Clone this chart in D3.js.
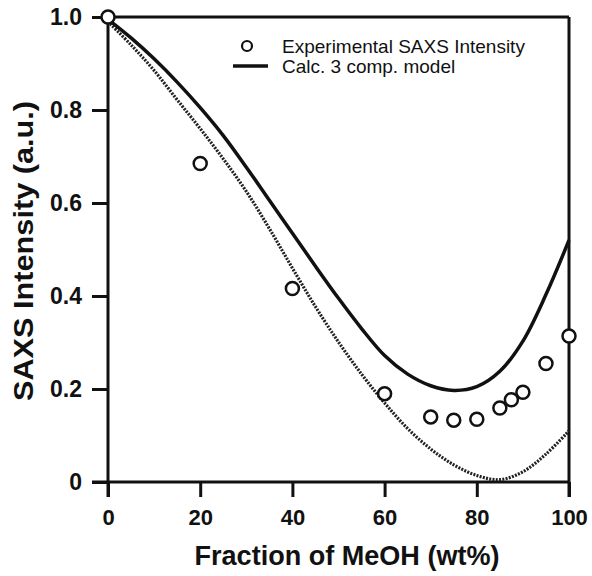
<!DOCTYPE html>
<html>
<head>
<meta charset="utf-8">
<script src="https://cdn.jsdelivr.net/npm/d3@7"></script>
<style>
  html, body { margin: 0; padding: 0; background: #fff; }
  svg { display: block; font-family: "Liberation Sans", Arial, Helvetica, sans-serif; }
</style>
</head>
<body>
<svg id="chart" width="592" height="576"></svg>
<script>
// Experimental SAXS intensity
const expFraction = [0, 20, 40, 60, 70, 75, 80, 85, 87.5, 90, 95, 100];
const expIntensity = [1.0, 0.685, 0.416, 0.19, 0.14, 0.133, 0.135, 0.159, 0.177, 0.193, 0.255, 0.314];

// Calculated 3-component model (solid)
const modelFraction = [0, 5, 10, 15, 20, 25, 30, 35, 40, 45, 50, 55, 60, 65, 70, 75, 80, 85, 90, 95, 100];
const modelIntensity = [0.995, 0.955, 0.91, 0.86, 0.805, 0.745, 0.677, 0.606, 0.535, 0.464, 0.395, 0.33, 0.272, 0.232, 0.207, 0.197, 0.205, 0.238, 0.303, 0.403, 0.52];

// Dotted curve
const dotIntensity = [0.99, 0.94, 0.885, 0.822, 0.76, 0.695, 0.625, 0.545, 0.46, 0.377, 0.301, 0.232, 0.17, 0.115, 0.071, 0.037, 0.014, 0.005, 0.022, 0.06, 0.11];

const xTicks = [0, 20, 40, 60, 80, 100];
const yTicks = [0, 0.2, 0.4, 0.6, 0.8, 1.0];
const yTickLabels = ["0", "0.2", "0.4", "0.6", "0.8", "1.0"];

const legendLabels = ["Experimental SAXS Intensity", "Calc. 3 comp. model"];
const xTitle = "Fraction of MeOH (wt%)";
const yTitle = "SAXS Intensity (a.u.)";

const svg = d3.select("#chart");
const pLeft = 108, pRight = 569, pTop = 17, pBottom = 482;

const x = d3.scaleLinear().domain([0, 100]).range([pLeft, pRight]);
const y = d3.scaleLinear().domain([0, 1]).range([pBottom, pTop]);

// Frame (top & right)
svg.append("line").attr("x1", pLeft).attr("x2", pRight).attr("y1", pTop).attr("y2", pTop)
  .attr("stroke", "#111").attr("stroke-width", 3);
svg.append("line").attr("x1", pRight).attr("x2", pRight).attr("y1", pTop).attr("y2", pBottom + 15)
  .attr("stroke", "#111").attr("stroke-width", 3);

// Axes
const xAxis = d3.axisBottom(x).tickValues(xTicks).tickSize(15).tickSizeOuter(0).tickPadding(12)
  .tickFormat(d3.format("d"));
const gx = svg.append("g").attr("transform", `translate(0,${pBottom})`).call(xAxis);
gx.select(".domain").attr("d", `M${pLeft - 16},0H${pRight}`).attr("stroke", "#111").attr("stroke-width", 3);
gx.selectAll(".tick line").attr("stroke", "#111").attr("stroke-width", 3);
gx.selectAll(".tick text").attr("fill", "#111").attr("font-size", 22).attr("font-weight", "bold")
  .attr("font-family", "Liberation Sans, Arial, sans-serif").attr("dy", "0.71em");

const yAxis = d3.axisLeft(y).tickValues(yTicks).tickSize(16).tickSizeOuter(0).tickPadding(10)
  .tickFormat((d, i) => yTickLabels[i]);
const gy = svg.append("g").attr("transform", `translate(${pLeft},0)`).call(yAxis);
gy.select(".domain").attr("d", `M0,${pTop}V${pBottom + 15}`).attr("stroke", "#111").attr("stroke-width", 3);
gy.selectAll(".tick line").attr("stroke", "#111").attr("stroke-width", 3);
gy.selectAll(".tick text").attr("fill", "#111").attr("font-size", 23).attr("font-weight", "bold")
  .attr("font-family", "Liberation Sans, Arial, sans-serif");

// Titles
svg.append("text").attr("x", 347).attr("y", 565).attr("text-anchor", "middle")
  .attr("font-size", 28).attr("font-weight", "bold").attr("fill", "#111")
  .attr("textLength", 305).attr("lengthAdjust", "spacingAndGlyphs")
  .text(xTitle);
svg.append("text").attr("transform", "translate(33,251) rotate(-90)").attr("text-anchor", "middle")
  .attr("font-size", 27).attr("font-weight", "bold").attr("fill", "#111")
  .attr("textLength", 300).attr("lengthAdjust", "spacingAndGlyphs")
  .text(yTitle);

// Curves
const line = d3.line().x(d => x(d[0])).y(d => y(d[1])).curve(d3.curveCatmullRom.alpha(0.5));
svg.append("path").datum(modelFraction.map((f, i) => [f, dotIntensity[i]]))
  .attr("d", line).attr("fill", "none").attr("stroke", "#222")
  .attr("stroke-width", 3.2).attr("stroke-dasharray", "2,1.3");
svg.append("path").datum(modelFraction.map((f, i) => [f, modelIntensity[i]]))
  .attr("d", line).attr("fill", "none").attr("stroke", "#111").attr("stroke-width", 3.5);

// Experimental points
svg.append("g").selectAll("circle").data(expFraction.map((f, i) => [f, expIntensity[i]]))
  .join("circle").attr("cx", d => x(d[0])).attr("cy", d => y(d[1])).attr("r", 6.5)
  .attr("fill", "#fff").attr("stroke", "#111").attr("stroke-width", 2.5);

// Legend
const lg = svg.append("g");
lg.append("circle").attr("cx", 247).attr("cy", 46).attr("r", 5)
  .attr("fill", "#fff").attr("stroke", "#111").attr("stroke-width", 2.2);
lg.append("line").attr("x1", 233).attr("x2", 268).attr("y1", 66).attr("y2", 66)
  .attr("stroke", "#111").attr("stroke-width", 3.5);
lg.selectAll("text").data(legendLabels).join("text")
  .attr("x", 282).attr("y", (d, i) => 53 + i * 20)
  .attr("font-size", 19).attr("fill", "#111").text(d => d);
</script>
</body>
</html>
